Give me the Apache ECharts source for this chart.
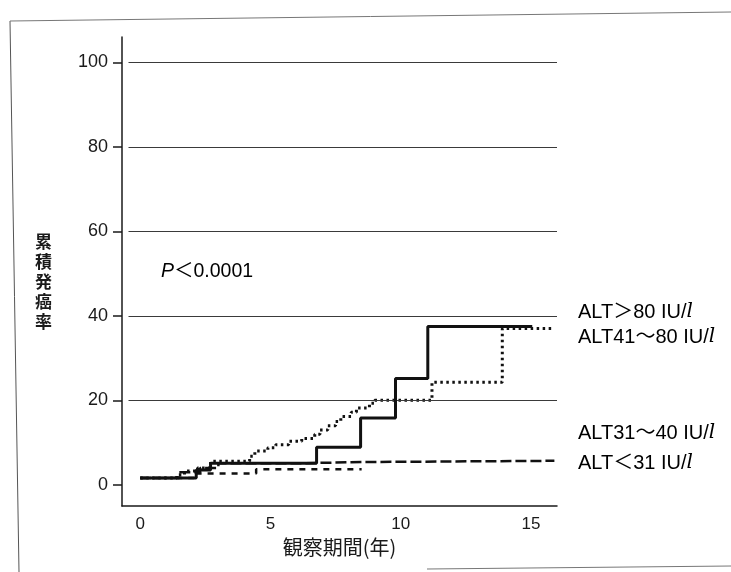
<!DOCTYPE html>
<html>
<head>
<meta charset="utf-8">
<script src="https://cdn.jsdelivr.net/npm/echarts@6/dist/echarts.min.js"></script>
<style>
html,body{margin:0;padding:0;background:#fff;}
#chart{width:731px;height:572px;}
</style>
</head>
<body>
<div id="chart"></div>
<script>
// ---- data (years, cumulative incidence %) ----
const xTicks = [0, 5, 10, 15];
const yTicks = [0, 20, 40, 60, 80, 100];
const gridValues = [20, 40, 60, 80, 100];

const seriesNames = ['ALT＞80 IU/l', 'ALT41～80 IU/l', 'ALT31～40 IU/l', 'ALT＜31 IU/l'];

const timeOver80 = [0, 2.15, 2.7, 6.77, 8.46, 9.8, 11.04, 15.05];
const rateOver80 = [1.6, 3.5, 5.1, 8.9, 15.8, 25.2, 37.5, 37.5];

const time41to80 = [0, 1.4, 1.7, 2.2, 2.7, 4.2, 4.4, 4.9, 5.2, 5.7, 6.2, 6.7, 6.9, 7.2, 7.5, 7.7, 8.1, 8.3, 8.8, 9.0, 11.2, 13.9, 15.85];
const rate41to80 = [1.6, 2.4, 3.3, 4.0, 5.6, 6.8, 8.0, 8.8, 9.5, 10.3, 11.0, 12.0, 13.0, 14.0, 15.0, 16.2, 17.2, 18.2, 19.3, 20.0, 24.3, 37.0, 37.0];

const time31to40 = [0, 1.5, 2.3, 3.0, 6.0, 8.5, 15.9];
const rate31to40 = [1.6, 3.0, 4.0, 5.1, 5.4, 5.7, 5.7];

const timeUnder31 = [0, 2.15, 4.45, 8.5];
const rateUnder31 = [1.6, 2.7, 3.7, 3.7];

const pText = '＜0.0001';

function pairs(t, v) { return t.map((x, i) => [x, v[i]]); }

const chart = echarts.init(document.getElementById('chart'), null, {renderer: 'canvas'});
const jp = '"Noto Sans CJK JP", sans-serif';
const lat = '"Liberation Sans", Arial, sans-serif';
const ink = '#1a1a1a';

const gridLineData = gridValues.map(v => [{coord: [-0.45, v]}, {coord: [16, v]}]);

function labelText(s) {
  // last char "l" drawn italic
  return '{a|' + s.slice(0, -1) + '}{i|l}';
}
const labelRich = {
  a: {fontFamily: lat + ',' + jp, fontSize: 20, color: ink},
  i: {fontFamily: '"DejaVu Serif", serif', fontStyle: 'italic', fontSize: 20, color: ink}
};

chart.setOption({
  backgroundColor: '#ffffff',
  animation: false,
  grid: {left: 122, right: 174, top: 37, bottom: 66, containLabel: false},
  xAxis: {
    type: 'value', min: -0.7, max: 16,
    name: '観察期間(年)', nameLocation: 'middle', nameGap: 28,
    nameTextStyle: {fontFamily: jp, fontSize: 20, color: ink},
    axisLine: {show: true, onZero: false, lineStyle: {color: ink, width: 1.5}},
    axisTick: {show: false},
    axisLabel: {customValues: xTicks, fontFamily: lat, fontSize: 17, color: ink, margin: 10},
    splitLine: {show: false}
  },
  yAxis: {
    type: 'value', min: -5, max: 106,
    name: '\n累\n積\n発\n癌\n率', nameLocation: 'middle', nameRotate: 0, nameGap: 70,
    nameTextStyle: {fontFamily: jp, fontSize: 17, lineHeight: 20, color: ink, fontWeight: 'bold'},
    axisLine: {show: true, onZero: false, lineStyle: {color: ink, width: 1.5}},
    axisTick: {show: true, customValues: yTicks, inside: false, length: 9, lineStyle: {color: ink, width: 1.5}},
    axisLabel: {customValues: yTicks, fontFamily: lat, fontSize: 18, color: ink, margin: 14},
    splitLine: {show: false}
  },
  graphic: [
    {type: 'line', shape: {x1: 10, y1: 21, x2: 19, y2: 572}, style: {stroke: '#555', lineWidth: 1}},
    {type: 'line', shape: {x1: 10, y1: 21, x2: 731, y2: 12}, style: {stroke: '#777', lineWidth: 1}},
    {type: 'line', shape: {x1: 427, y1: 569, x2: 731, y2: 566}, style: {stroke: '#777', lineWidth: 1}},
    {type: 'text', x: 161, y: 272, style: {text: '{p|P}{t|' + pText + '}', verticalAlign: 'middle',
      rich: {p: {fontFamily: lat, fontStyle: 'italic', fontSize: 19.5, color: ink},
             t: {fontFamily: lat + ',' + jp, fontSize: 19.5, color: ink}}}},
    {type: 'text', x: 578, y: 312, style: {text: labelText(seriesNames[0]), verticalAlign: 'middle', rich: labelRich}},
    {type: 'text', x: 578, y: 337, style: {text: labelText(seriesNames[1]), verticalAlign: 'middle', rich: labelRich}},
    {type: 'text', x: 578, y: 433, style: {text: labelText(seriesNames[2]), verticalAlign: 'middle', rich: labelRich}},
    {type: 'text', x: 578, y: 463, style: {text: labelText(seriesNames[3]), verticalAlign: 'middle', rich: labelRich}}
  ],
  series: [
    {
      name: seriesNames[0], type: 'line', step: 'end', symbol: 'none',
      data: pairs(timeOver80, rateOver80),
      lineStyle: {color: '#111', width: 3, type: 'solid'},
      markLine: {silent: true, symbol: 'none', label: {show: false},
        lineStyle: {color: '#3a3a3a', width: 1, type: 'solid'}, data: gridLineData},
      z: 5
    },
    {
      name: seriesNames[1], type: 'line', step: 'end', symbol: 'none',
      data: pairs(time41to80, rate41to80),
      lineStyle: {color: '#111', width: 3, type: [2.5, 3.5]},
      z: 4
    },
    {
      name: seriesNames[2], type: 'line', step: 'end', symbol: 'none',
      data: pairs(time31to40, rate31to40),
      lineStyle: {color: '#111', width: 2.5, type: [11, 4]},
      z: 3
    },
    {
      name: seriesNames[3], type: 'line', step: 'end', symbol: 'none',
      data: pairs(timeUnder31, rateUnder31),
      lineStyle: {color: '#111', width: 2.5, type: [6, 6]},
      z: 3
    }
  ]
});
</script>
</body>
</html>
